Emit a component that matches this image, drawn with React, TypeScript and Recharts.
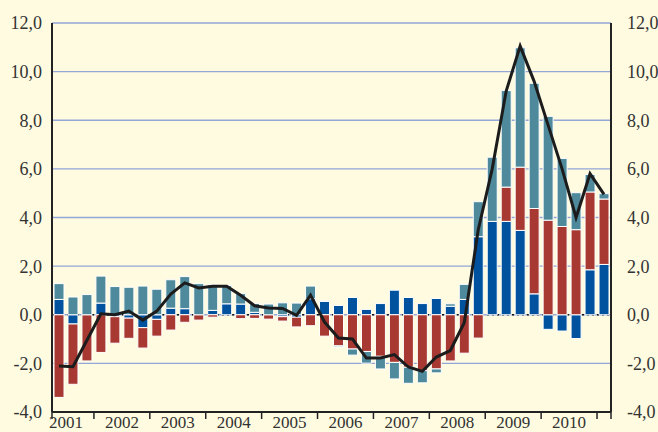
import React from 'react';
import { ComposedChart, Bar, Line, XAxis, YAxis, CartesianGrid } from 'recharts';

const YEARS = ['2001', '2002', '2003', '2004', '2005', '2006', '2007', '2008', '2009', '2010'];
const QUARTERS = YEARS.flatMap((y) => [y + 'K1', y + 'K2', y + 'K3', y + 'K4']);

const BLUE = [
  0.63, -0.38, 0.0, 0.48, -0.08, -0.14, -0.53, -0.19,
  0.27, 0.25, 0.0, 0.18, 0.45, 0.44, 0.1, 0.0,
  -0.08, -0.1, 0.66, 0.55, 0.38, 0.71, 0.22, 0.46,
  1.01, 0.71, 0.46, 0.67, 0.35, 0.63, 3.21, 3.84,
  3.84, 3.47, 0.86, -0.6, -0.67, -0.98, 1.85, 2.07,
];
const RED = [
  -3.4, -2.48, -1.9, -1.55, -1.09, -0.83, -0.84, -0.69,
  -0.63, -0.31, -0.22, -0.1, 0.0, -0.16, -0.15, -0.18,
  -0.18, -0.4, -0.45, -0.88, -1.28, -1.41, -1.51, -1.71,
  -1.96, -2.16, -2.3, -2.23, -1.9, -1.58, -0.96, 0.0,
  1.41, 2.6, 3.51, 3.89, 3.63, 3.5, 3.2, 2.69,
];
const TEAL = [
  0.65, 0.73, 0.83, 1.11, 1.16, 1.13, 1.18, 1.05,
  1.17, 1.32, 1.28, 1.06, 0.75, 0.43, 0.36, 0.44,
  0.49, 0.48, 0.52, 0.03, -0.04, -0.25, -0.48, -0.52,
  -0.68, -0.66, -0.5, -0.16, 0.1, 0.62, 1.44, 2.64,
  3.97, 4.91, 5.15, 4.27, 2.8, 1.52, 0.72, 0.22,
];
const TOTAL = [
  -2.11, -2.14, -1.05, 0.04, 0.0, 0.15, -0.22, 0.15,
  0.85, 1.31, 1.1, 1.17, 1.17, 0.8, 0.37, 0.28,
  0.26, -0.02, 0.81, -0.3, -0.96, -1.0, -1.78, -1.78,
  -1.64, -2.15, -2.33, -1.74, -1.47, -0.33, 3.5, 6.0,
  9.2, 11.05, 9.6, 7.8, 6.0, 4.0, 5.8, 4.95,
];
const Y_TICKS = [-4, -2, 0, 2, 4, 6, 8, 10, 12];
const Y_DOMAIN = [-4, 12];

const data = QUARTERS.map((q, i) => ({ q, blue: BLUE[i], red: RED[i], teal: TEAL[i], total: TOTAL[i] }));

const W = 658;
const H = 432;
const LEFT_W = 52;
const RIGHT_W = 47;
const BAND = (W - LEFT_W - RIGHT_W) / QUARTERS.length;
const FONT = '"Liberation Serif", "DejaVu Serif", serif';
const TEXT = '#333333';

const fmt = (v: number) => v.toFixed(1).replace('.', ',');

const XTick = (props: any) => {
  const { x, y, index } = props;
  const els: any[] = [];
  if (index % 4 === 1) {
    els.push(
      <text key="t" x={x - BAND / 2} y={y + 16} textAnchor="middle" fontFamily={FONT} fontSize={17} fill={TEXT}>
        {YEARS[(index - 1) / 4]}
      </text>
    );
  }
  if (index % 4 === 3 || index === 0) {
    els.push(<line key="l" x1={x - BAND / 2} x2={x - BAND / 2} y1={y} y2={y + 7} stroke="#222" strokeWidth={1.5} />);
  }
  if (index === QUARTERS.length - 1) {
    els.push(<line key="r" x1={x + BAND / 2} x2={x + BAND / 2} y1={y} y2={y + 7} stroke="#222" strokeWidth={1.5} />);
  }
  return <g>{els}</g>;
};

const zeroGen = (args: any) => {
  const s = args && args.yAxis && args.yAxis.scale;
  if (typeof s === 'function') return [s(0)];
  if (s && typeof s.map === 'function') {
    const v = s.map(0);
    if (typeof v === 'number') return [v];
  }
  const off = args && args.offset;
  if (off) {
    return [off.top + (off.height * (Y_DOMAIN[1] - 0)) / (Y_DOMAIN[1] - Y_DOMAIN[0])];
  }
  return [];
};

export default function App() {
  return (
    <div style={{ position: 'absolute', left: 0, top: 0, width: W, height: H, background: '#fefbe0' }}>
      <ComposedChart
        width={W}
        height={H}
        data={data}
        stackOffset="sign"
        margin={{ top: 23, right: 0, bottom: 0, left: 0 }}
      >
        <CartesianGrid vertical={false} stroke="#93a6d6" strokeWidth={1.3} />
        <CartesianGrid
          vertical={false}
          horizontalCoordinatesGenerator={zeroGen}
          stroke="#111"
          strokeDasharray="2 3"
          strokeWidth={1.5}
        />
        <XAxis
          dataKey="q"
          height={20}
          interval={0}
          tickSize={0}
          tickMargin={0}
          tickLine={false}
          axisLine={{ stroke: '#222', strokeWidth: 2 }}
          tick={<XTick />}
        />
        <YAxis
          domain={Y_DOMAIN}
          ticks={Y_TICKS}
          width={LEFT_W}
          tickSize={0}
          tickMargin={10}
          tickLine={false}
          tickFormatter={fmt}
          axisLine={{ stroke: '#222', strokeWidth: 2 }}
          tick={{ fontFamily: FONT, fontSize: 18, fill: TEXT }}
          interval={0}
        />
        <YAxis
          yAxisId="r"
          orientation="right"
          domain={Y_DOMAIN}
          ticks={Y_TICKS}
          width={RIGHT_W}
          tickSize={0}
          tickMargin={16}
          tickLine={false}
          tickFormatter={fmt}
          axisLine={{ stroke: '#222', strokeWidth: 2 }}
          tick={{ fontFamily: FONT, fontSize: 18, fill: TEXT, textAnchor: 'start' }}
          interval={0}
          allowDataOverflow
        />
        <Bar dataKey="blue" stackId="s" fill="#00529f" stroke="#ffffff" strokeWidth={1} barSize={10} isAnimationActive={false} />
        <Bar dataKey="red" stackId="s" fill="#a83932" stroke="#ffffff" strokeWidth={1} barSize={10} isAnimationActive={false} />
        <Bar dataKey="teal" stackId="s" fill="#4e8a9b" stroke="#ffffff" strokeWidth={1} barSize={10} isAnimationActive={false} />
        <Line dataKey="total" type="linear" stroke="#1c1c1c" strokeWidth={3} dot={false} isAnimationActive={false} />
      </ComposedChart>
    </div>
  );
}
